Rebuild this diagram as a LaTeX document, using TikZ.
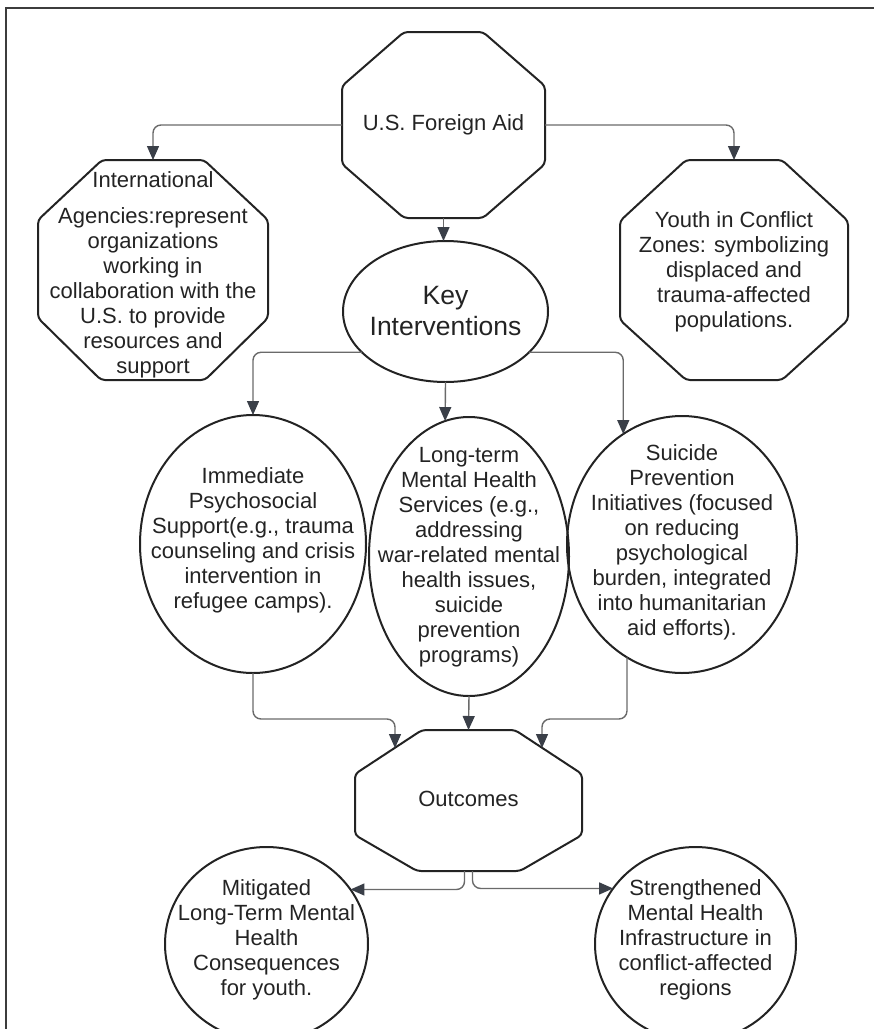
\documentclass[tikz,border=0pt]{standalone}
\usepackage{fontspec}
\setmainfont{Liberation Sans}
\usetikzlibrary{arrows.meta,shapes.geometric}

\definecolor{inkc}{HTML}{232323}
\definecolor{wirec}{HTML}{6A6A6A}
\definecolor{tipc}{HTML}{3A3F48}
\definecolor{framec}{HTML}{3C3C3C}

\tikzset{
  octbox/.style={rectangle, inner sep=0pt, outer sep=0pt},
  octline/.style={draw=inkc, line width=2pt, rounded corners=4pt, line join=round},
  ellbox/.style={ellipse, draw=inkc, line width=2pt, inner sep=0pt, outer sep=0pt},
  lbl/.style={inner sep=0pt, align=center, text=inkc, font=\fontsize{22}{25}\selectfont},
  keylbl/.style={lbl, font=\fontsize{26.5}{30.5}\selectfont},
  conn/.style={draw=wirec, line width=1.4pt, rounded corners=8pt,
    -{Triangle[length=14pt,width=12pt,color=tipc]}},
  framel/.style={draw=framec, line width=1.6pt}
}

% chamfered outline around a rectangular node:
% #1 node, #2 top horizontal cut, #3 top vertical cut,
% #4 bottom horizontal cut, #5 bottom vertical cut
\newcommand\octoutline[5]{%
  \draw[octline]
    ([xshift=#2]#1.north west) -- ([xshift=-#2]#1.north east)
    -- ([yshift=-#3]#1.north east) -- ([yshift=#5]#1.south east)
    -- ([xshift=-#4]#1.south east) -- ([xshift=#4]#1.south west)
    -- ([yshift=#5]#1.south west) -- ([yshift=-#3]#1.north west) -- cycle;}

\begin{document}
\begin{tikzpicture}[x=1pt,y=-1pt]
\useasboundingbox (0,0) rectangle (874,1029);

% page frame
\draw[framel] (6,1029) -- (6,8) -- (874,8);

% chamfered boxes
\node[octbox, minimum width=203pt, minimum height=186pt] (aid) at (443.5,125) {};
\node[octbox, minimum width=230pt, minimum height=220pt] (intl) at (153,270) {};
\node[octbox, minimum width=228pt, minimum height=220pt] (youth) at (734,270) {};
\node[octbox, minimum width=227pt, minimum height=141pt] (out) at (468.5,800.5) {};
\octoutline{aid}{62pt}{54pt}{62pt}{54pt}
\octoutline{intl}{64pt}{60pt}{63pt}{62pt}
\octoutline{youth}{66pt}{61pt}{66pt}{60pt}
\octoutline{out}{67pt}{44pt}{62pt}{36pt}

% ellipses
\node[ellbox, minimum width=205pt, minimum height=141pt] (key) at (445.5,311.5) {};
\node[ellbox, minimum width=226pt, minimum height=258pt] (imm) at (253,544) {};
\node[ellbox, minimum width=200pt, minimum height=279pt] (lt) at (469,556.5) {};
\node[ellbox, minimum width=230pt, minimum height=257pt] (sui) at (682,544.5) {};
\node[ellbox, minimum width=203pt, minimum height=194pt] (mit) at (266.5,944) {};
\node[ellbox, minimum width=201pt, minimum height=194pt] (str) at (695.5,944) {};

% texts
\node[lbl] (aid-t) at (443.5,125) {U.S. Foreign Aid};
\node[lbl] (intl-t) at (153,275) {International\\[11pt]Agencies:represent\\organizations\\working in\\collaboration with the\\U.S. to provide\\resources and\\support};
\node[lbl] (youth-t) at (734,272) {Youth in Conflict\\Zones: symbolizing\\displaced and\\trauma-affected\\populations.};
\node[keylbl] (key-t) at (445.5,311) {Key\\Interventions};
\node[lbl] (imm-t) at (253,540.5) {Immediate\\Psychosocial\\Support(e.g., trauma\\counseling and crisis\\intervention in\\refugee camps).};
\node[lbl] (lt-t) at (469,557) {Long-term\\Mental Health\\Services (e.g.,\\addressing\\war-related mental\\health issues,\\suicide\\prevention\\programs)};
\node[lbl] (sui-t) at (682,542.5) {Suicide\\Prevention\\Initiatives (focused\\on reducing\\psychological\\burden, integrated\\into humanitarian\\aid efforts).};
\node[lbl] (out-t) at (468.5,799) {Outcomes};
\node[lbl] (mit-t) at (266.5,940) {Mitigated\\Long-Term Mental\\Health\\Consequences\\for youth.};
\node[lbl] (str-t) at (695.5,940) {Strengthened\\Mental Health\\Infrastructure in\\conflict-affected\\regions};

% entry points on the chamfered top of the outcomes box
\coordinate (oinL) at ([shift={(40pt,-18pt)}]out.north west);
\coordinate (oinR) at ([shift={(-40pt,-18pt)}]out.north east);

% connectors
\draw[conn] (aid.west) -| (intl.north);
\draw[conn] (aid.east) -| (youth.north);
\draw[conn] (aid.south) -- (aid.south |- key.north);
\draw[conn] (key.206) -| (imm.north);
\draw[conn] (key.334) -| (sui.118);
\draw[conn] (key.south) -- (lt.100);
\draw[conn] (imm.south) |- ([yshift=29pt]oinL) -- (oinL);
\draw[conn] (sui.244) |- ([yshift=29pt]oinR) -- (oinR);
\draw[conn] (lt.south) -- (out.north);
\draw[conn] ([xshift=-4pt]out.south) |- (mit.33.5);
\draw[conn] ([xshift=4pt]out.south) |- (str.146.5);
\end{tikzpicture}
\end{document}
